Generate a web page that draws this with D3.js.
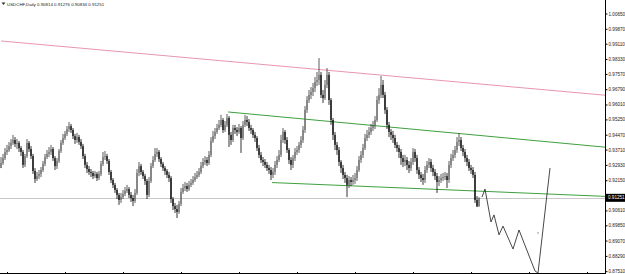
<!DOCTYPE html>
<html>
<head>
<meta charset="utf-8">
<script src="https://cdn.jsdelivr.net/npm/d3@7"></script>
<style>
  body { margin: 0; background: #fff; }
  svg { display: block; font-family: "Liberation Sans", "DejaVu Sans", sans-serif; }
</style>
</head>
<body>
<svg id="chart" width="625" height="274"></svg>
<script>
// USDCHF daily bars (open = previous close)
const symbol = "USDCHF,Daily";
const lastQuote = ["0.90814", "0.91276", "0.90834", "0.91251"];
const lastPrice = 0.91251;
const firstOpen = 0.9277;

const closes = [
  0.9303, 0.9328, 0.9359, 0.9369, 0.9389, 0.9405, 0.9420, 0.9400, 0.9405, 0.9379,
  0.9359, 0.9293, 0.9338, 0.9405, 0.9374, 0.9338, 0.9262, 0.9221, 0.9236, 0.9247,
  0.9267, 0.9298, 0.9333, 0.9349, 0.9359, 0.9374, 0.9328, 0.9287, 0.9313, 0.9364,
  0.9405, 0.9430, 0.9451, 0.9476, 0.9491, 0.9471, 0.9440, 0.9420, 0.9435, 0.9410,
  0.9389, 0.9338, 0.9293, 0.9272, 0.9257, 0.9252, 0.9236, 0.9247, 0.9226, 0.9247,
  0.9298, 0.9333, 0.9338, 0.9313, 0.9257, 0.9216, 0.9191, 0.9165, 0.9140, 0.9114,
  0.9129, 0.9145, 0.9160, 0.9170, 0.9140, 0.9124, 0.9109, 0.9150, 0.9252, 0.9287,
  0.9257, 0.9236, 0.9211, 0.9140, 0.9211, 0.9287, 0.9318, 0.9349, 0.9359, 0.9323,
  0.9298, 0.9277, 0.9262, 0.9242, 0.9226, 0.9119, 0.9083, 0.9068, 0.9053, 0.9094,
  0.9155, 0.9175, 0.9185, 0.9170, 0.9191, 0.9201, 0.9216, 0.9231, 0.9242, 0.9257,
  0.9287, 0.9308, 0.9318, 0.9303, 0.9344, 0.9415, 0.9440, 0.9461, 0.9481, 0.9497,
  0.9522, 0.9471, 0.9497, 0.9532, 0.9446, 0.9420, 0.9481, 0.9471, 0.9461, 0.9481,
  0.9430, 0.9497, 0.9522, 0.9512, 0.9481, 0.9471, 0.9446, 0.9430, 0.9379, 0.9344,
  0.9318, 0.9308, 0.9293, 0.9277, 0.9267, 0.9242, 0.9257, 0.9293, 0.9318, 0.9344,
  0.9420, 0.9461, 0.9420, 0.9369, 0.9318, 0.9293, 0.9328, 0.9359, 0.9369, 0.9395,
  0.9420, 0.9471, 0.9573, 0.9624, 0.9650, 0.9665, 0.9685, 0.9716, 0.9726, 0.9752,
  0.9650, 0.9634, 0.9701, 0.9752, 0.9624, 0.9522, 0.9446, 0.9395, 0.9369, 0.9308,
  0.9277, 0.9242, 0.9226, 0.9191, 0.9216, 0.9206, 0.9216, 0.9226, 0.9267, 0.9318,
  0.9344, 0.9379, 0.9430, 0.9446, 0.9461, 0.9481, 0.9491, 0.9522, 0.9624, 0.9650,
  0.9701, 0.9650, 0.9573, 0.9497, 0.9461, 0.9446, 0.9430, 0.9395, 0.9379, 0.9359,
  0.9328, 0.9308, 0.9318, 0.9293, 0.9277, 0.9308, 0.9359, 0.9328, 0.9267, 0.9242,
  0.9226, 0.9216, 0.9267, 0.9293, 0.9308, 0.9277, 0.9257, 0.9236, 0.9206, 0.9216,
  0.9226, 0.9231, 0.9236, 0.9216, 0.9293, 0.9328, 0.9344, 0.9369, 0.9410, 0.9420,
  0.9379, 0.9359, 0.9328, 0.9308, 0.9277, 0.9267, 0.9242, 0.9114, 0.90814, 0.91251
];

const highs = [
  0.9333, 0.9349, 0.9379, 0.9395, 0.9410, 0.9425, 0.9446, 0.9435, 0.9425, 0.9415,
  0.9389, 0.9369, 0.9349, 0.9425, 0.9415, 0.9389, 0.9349, 0.9277, 0.9257, 0.9267,
  0.9282, 0.9313, 0.9349, 0.9369, 0.9384, 0.9395, 0.9384, 0.9338, 0.9328, 0.9374,
  0.9420, 0.9451, 0.9466, 0.9491, 0.9512, 0.9502, 0.9481, 0.9451, 0.9456, 0.9446,
  0.9425, 0.9400, 0.9349, 0.9308, 0.9287, 0.9272, 0.9262, 0.9262, 0.9257, 0.9262,
  0.9313, 0.9359, 0.9364, 0.9349, 0.9323, 0.9267, 0.9226, 0.9201, 0.9175, 0.9150,
  0.9150, 0.9165, 0.9180, 0.9191, 0.9180, 0.9155, 0.9140, 0.9170, 0.9272, 0.9308,
  0.9298, 0.9267, 0.9247, 0.9221, 0.9231, 0.9303, 0.9338, 0.9379, 0.9379, 0.9369,
  0.9333, 0.9308, 0.9287, 0.9272, 0.9257, 0.9236, 0.9129, 0.9099, 0.9089, 0.9109,
  0.9175, 0.9196, 0.9206, 0.9201, 0.9211, 0.9221, 0.9236, 0.9252, 0.9262, 0.9277,
  0.9308, 0.9328, 0.9338, 0.9333, 0.9364, 0.9435, 0.9466, 0.9481, 0.9502, 0.9522,
  0.9548, 0.9532, 0.9517, 0.9553, 0.9542, 0.9461, 0.9497, 0.9497, 0.9486, 0.9502,
  0.9491, 0.9517, 0.9548, 0.9542, 0.9527, 0.9497, 0.9481, 0.9461, 0.9440, 0.9395,
  0.9359, 0.9333, 0.9323, 0.9308, 0.9293, 0.9282, 0.9277, 0.9313, 0.9338, 0.9369,
  0.9446, 0.9481, 0.9471, 0.9435, 0.9379, 0.9333, 0.9344, 0.9379, 0.9389, 0.9410,
  0.9440, 0.9491, 0.9593, 0.9644, 0.9675, 0.9690, 0.9711, 0.9741, 0.9767, 0.9838,
  0.9767, 0.9675, 0.9726, 0.9787, 0.9767, 0.9634, 0.9532, 0.9461, 0.9410, 0.9384,
  0.9318, 0.9293, 0.9257, 0.9242, 0.9236, 0.9231, 0.9242, 0.9252, 0.9287, 0.9338,
  0.9364, 0.9400, 0.9451, 0.9471, 0.9486, 0.9502, 0.9517, 0.9542, 0.9644, 0.9685,
  0.9746, 0.9726, 0.9665, 0.9588, 0.9512, 0.9476, 0.9466, 0.9446, 0.9410, 0.9395,
  0.9374, 0.9344, 0.9344, 0.9333, 0.9313, 0.9328, 0.9379, 0.9374, 0.9344, 0.9282,
  0.9257, 0.9247, 0.9287, 0.9313, 0.9328, 0.9323, 0.9293, 0.9272, 0.9252, 0.9236,
  0.9247, 0.9252, 0.9257, 0.9252, 0.9313, 0.9349, 0.9369, 0.9389, 0.9435, 0.9456,
  0.9435, 0.9395, 0.9374, 0.9344, 0.9323, 0.9293, 0.9282, 0.9257, 0.9134, 0.91276
];

const lows = [
  0.9277, 0.9293, 0.9318, 0.9344, 0.9359, 0.9374, 0.9395, 0.9384, 0.9374, 0.9359,
  0.9338, 0.9277, 0.9282, 0.9328, 0.9359, 0.9323, 0.9247, 0.9201, 0.9211, 0.9221,
  0.9231, 0.9257, 0.9287, 0.9323, 0.9333, 0.9344, 0.9313, 0.9267, 0.9272, 0.9303,
  0.9354, 0.9395, 0.9420, 0.9440, 0.9461, 0.9456, 0.9425, 0.9400, 0.9405, 0.9395,
  0.9374, 0.9323, 0.9277, 0.9252, 0.9242, 0.9231, 0.9221, 0.9226, 0.9211, 0.9216,
  0.9236, 0.9287, 0.9318, 0.9298, 0.9242, 0.9201, 0.9175, 0.9150, 0.9119, 0.9089,
  0.9099, 0.9119, 0.9134, 0.9150, 0.9124, 0.9104, 0.9083, 0.9099, 0.9140, 0.9236,
  0.9242, 0.9221, 0.9191, 0.9119, 0.9129, 0.9201, 0.9277, 0.9308, 0.9333, 0.9308,
  0.9282, 0.9262, 0.9242, 0.9226, 0.9206, 0.9099, 0.9063, 0.9048, 0.9022, 0.9043,
  0.9083, 0.9145, 0.9160, 0.9155, 0.9160, 0.9180, 0.9191, 0.9206, 0.9221, 0.9231,
  0.9247, 0.9277, 0.9293, 0.9287, 0.9293, 0.9333, 0.9405, 0.9425, 0.9451, 0.9471,
  0.9486, 0.9456, 0.9461, 0.9486, 0.9384, 0.9395, 0.9410, 0.9451, 0.9440, 0.9451,
  0.9354, 0.9420, 0.9486, 0.9491, 0.9466, 0.9451, 0.9430, 0.9410, 0.9364, 0.9328,
  0.9303, 0.9287, 0.9277, 0.9262, 0.9247, 0.9216, 0.9226, 0.9242, 0.9277, 0.9308,
  0.9333, 0.9405, 0.9400, 0.9354, 0.9298, 0.9267, 0.9277, 0.9313, 0.9344, 0.9354,
  0.9379, 0.9405, 0.9456, 0.9558, 0.9609, 0.9629, 0.9644, 0.9665, 0.9695, 0.9701,
  0.9634, 0.9609, 0.9624, 0.9685, 0.9599, 0.9497, 0.9420, 0.9369, 0.9344, 0.9287,
  0.9252, 0.9221, 0.9201, 0.9129, 0.9175, 0.9185, 0.9191, 0.9196, 0.9211, 0.9257,
  0.9303, 0.9328, 0.9369, 0.9415, 0.9430, 0.9446, 0.9466, 0.9476, 0.9512, 0.9604,
  0.9634, 0.9634, 0.9553, 0.9476, 0.9435, 0.9420, 0.9405, 0.9379, 0.9359, 0.9328,
  0.9293, 0.9282, 0.9287, 0.9267, 0.9252, 0.9262, 0.9293, 0.9308, 0.9247, 0.9221,
  0.9206, 0.9191, 0.9201, 0.9252, 0.9277, 0.9257, 0.9236, 0.9216, 0.9150, 0.9185,
  0.9201, 0.9211, 0.9216, 0.9175, 0.9201, 0.9277, 0.9313, 0.9328, 0.9354, 0.9389,
  0.9364, 0.9338, 0.9308, 0.9287, 0.9262, 0.9247, 0.9226, 0.9099, 0.9078, 0.9080
];

// price scale labels on the right
const priceTicks = [1.0065, 0.9987, 0.9911, 0.9833, 0.9757, 0.9679, 0.9601, 0.9525,
  0.9447, 0.9371, 0.9293, 0.9215, 0.9061, 0.8985, 0.8907, 0.8829, 0.8751];

// drawn objects: [bar index, price] anchors
const pinkLine = [[0, 0.9925], [190, 0.9751]];
const channelTop = [[113.5, 0.9563], [229, 0.9453]];
const channelBottom = [[135.5, 0.9203], [230, 0.9163]];

// hand-drawn projection after the last bar
const forecastBars = [240.5, 242, 245, 246.5, 249, 251, 256, 259, 267, 268.5, 274.5];
const forecastPrices = [0.9129, 0.9170, 0.9002, 0.9038, 0.8936, 0.8981, 0.8864, 0.8961, 0.8752, 0.8742, 0.9277];
const strayDot = [268.5, 0.8946];

// time axis tick positions (bar index)
const timeTicks = [3, 32, 61, 90, 119, 148, 177, 206, 235, 264, 293];

const width = 625;
const height = 274;
const plotRight = 605;
const lastBar = 302;

const svg = d3.select('#chart');

const x = d3.scaleLinear().domain([0, lastBar]).range([1, plotRight]);
const y = d3.scaleLinear().domain([0.87366, 1.0134]).range([height, 0]);

const bars = closes.map((c, i) => ({
  i,
  open: i === 0 ? firstOpen : closes[i - 1],
  close: c,
  high: highs[i],
  low: lows[i]
}));

// current price line
svg.append('line')
  .attr('x1', 0).attr('x2', plotRight)
  .attr('y1', Math.round(y(lastPrice)) + 0.5).attr('y2', Math.round(y(lastPrice)) + 0.5)
  .attr('stroke', '#c8c8c8').attr('stroke-width', 1);

// trend lines, extended as rays to the right edge
function drawRay(pts, color) {
  const [[i0, p0], [i1, p1]] = pts;
  const slope = (p1 - p0) / (i1 - i0);
  const iEnd = x.invert(plotRight);
  svg.append('line')
    .attr('x1', x(i0)).attr('y1', y(p0))
    .attr('x2', plotRight).attr('y2', y(p0 + slope * (iEnd - i0)))
    .attr('stroke', color).attr('stroke-width', 1);
}
drawRay(pinkLine, '#e895b4');
drawRay(channelTop, '#3f9f3f');
drawRay(channelBottom, '#3f9f3f');

// candles
const g = svg.append('g');
g.selectAll('line.wick')
  .data(bars)
  .join('line')
  .attr('class', 'wick')
  .attr('x1', d => x(d.i)).attr('x2', d => x(d.i))
  .attr('y1', d => y(d.high)).attr('y2', d => y(d.low))
  .attr('stroke', d => d.close >= d.open ? '#333' : '#000')
  .attr('stroke-width', 0.8);

g.selectAll('rect.body')
  .data(bars)
  .join('rect')
  .attr('class', 'body')
  .attr('x', d => x(d.i) - 0.6)
  .attr('width', 1.2)
  .attr('y', d => y(Math.max(d.open, d.close)))
  .attr('height', d => Math.max(0.8, Math.abs(y(d.open) - y(d.close))))
  .attr('fill', d => d.close >= d.open ? '#707070' : '#000');

// projection path
const forecast = forecastBars.map((b, k) => [b, forecastPrices[k]]);
svg.append('path')
  .attr('d', d3.line().x(d => x(d[0])).y(d => y(d[1]))(forecast))
  .attr('fill', 'none')
  .attr('stroke', '#333')
  .attr('stroke-width', 0.9);

svg.append('rect')
  .attr('x', x(strayDot[0]) - 0.5).attr('y', y(strayDot[1]) - 0.5)
  .attr('width', 1).attr('height', 1)
  .attr('fill', '#333');

// bottom time axis line
svg.append('line')
  .attr('x1', 0).attr('x2', plotRight)
  .attr('y1', height - 0.5).attr('y2', height - 0.5)
  .attr('stroke', '#000');
svg.selectAll('line.tt')
  .data(timeTicks)
  .join('line')
  .attr('class', 'tt')
  .attr('x1', d => Math.round(x(d)) + 0.5).attr('x2', d => Math.round(x(d)) + 0.5)
  .attr('y1', height - 2).attr('y2', height)
  .attr('stroke', '#000');

// right price axis
const yAxis = d3.axisRight(y)
  .tickValues(priceTicks)
  .tickSize(2)
  .tickPadding(1)
  .tickFormat(d3.format('.5f'));

const ax = svg.append('g')
  .attr('transform', `translate(${plotRight + 0.5},0)`)
  .call(yAxis);
ax.select('.domain').attr('stroke', '#000').attr('d', `M0,0V${height}`);
ax.selectAll('.tick line').attr('stroke', '#000');
ax.selectAll('.tick text')
  .attr('font-size', 4.6)
  .attr('fill', '#222')
  .attr('font-family', '"Liberation Sans", sans-serif');

// current price tag
const yl = y(lastPrice);
svg.append('rect')
  .attr('x', plotRight + 1).attr('y', yl - 4)
  .attr('width', width - plotRight - 1).attr('height', 8)
  .attr('fill', '#000');
svg.append('text')
  .attr('x', plotRight + 3).attr('y', yl)
  .attr('dy', '0.35em')
  .attr('font-size', 4.6)
  .attr('fill', '#fff')
  .text(d3.format('.5f')(lastPrice));

// title
svg.append('path')
  .attr('d', 'M1.5,2.5 L5.5,2.5 L3.5,5 Z')
  .attr('fill', '#333');
svg.append('text')
  .attr('x', 7).attr('y', 4)
  .attr('dy', '0.35em')
  .attr('font-size', 4.4)
  .attr('fill', '#222')
  .text(`${symbol}  ${lastQuote.join(' ')}`);
</script>
</body>
</html>
